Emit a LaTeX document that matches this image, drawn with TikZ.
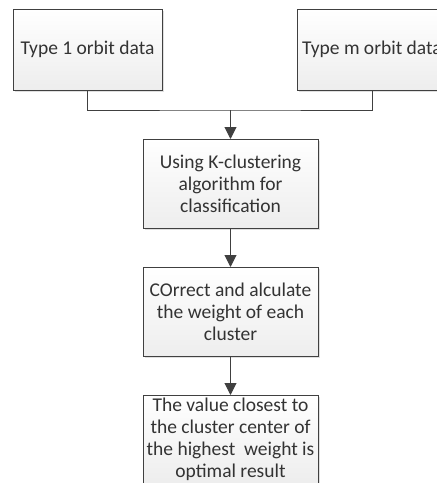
\documentclass[tikz,border=0pt]{standalone}
\usepackage{fontspec}
\setmainfont{Carlito}
\usepackage{tikz}
\usetikzlibrary{arrows.meta, positioning, shadows}

\begin{document}
\begin{tikzpicture}[
    x=1pt, y=1pt,
    font=\fontsize{19.5}{22}\selectfont,
    >={Triangle[width=12pt,length=12pt]},
    box/.style={
        rectangle,
        draw=black!75,
        line width=1pt,
        top color=white,
        bottom color=black!7,
        text=black!80,
        align=center,
        inner sep=1pt,
        outer sep=0pt,
        drop shadow={shadow xshift=1.5pt, shadow yshift=-1.5pt, opacity=0.25}
    },
    databox/.style={box, minimum width=149pt, minimum height=81pt},
    process/.style={box, minimum width=175pt, minimum height=89pt},
    line/.style={draw=black!75, line width=1pt},
    arrow/.style={line, ->}
]
\useasboundingbox (0,0) rectangle (437,-483);

% Nodes
\node (t1) [databox] at (87.5,-49.5) {Type 1 orbit data};
\node (tm) [databox] at (372,-49.5) {Type m orbit data};

\node (kc) [process] at (230.5,-183.5)
{Using K-clustering\\
algorithm for\\
classification};

\node (cw) [process, below=39pt of kc]
{COrrect and alculate\\
the weight of each\\
cluster};

\node (opt) [process, below=39pt of cw]
{The value closest to\\
the cluster center of\\
the highest\ \ weight is\\
optimal result};

% Arrows
\coordinate (join) at (230.5,-110);
\draw [line] (t1.south) |- (join) -| (tm.south);
\draw [arrow] (join) -- (kc.north);
\draw [arrow] (kc) -- (cw);
\draw [arrow] (cw) -- (opt);

\end{tikzpicture}
\end{document}
